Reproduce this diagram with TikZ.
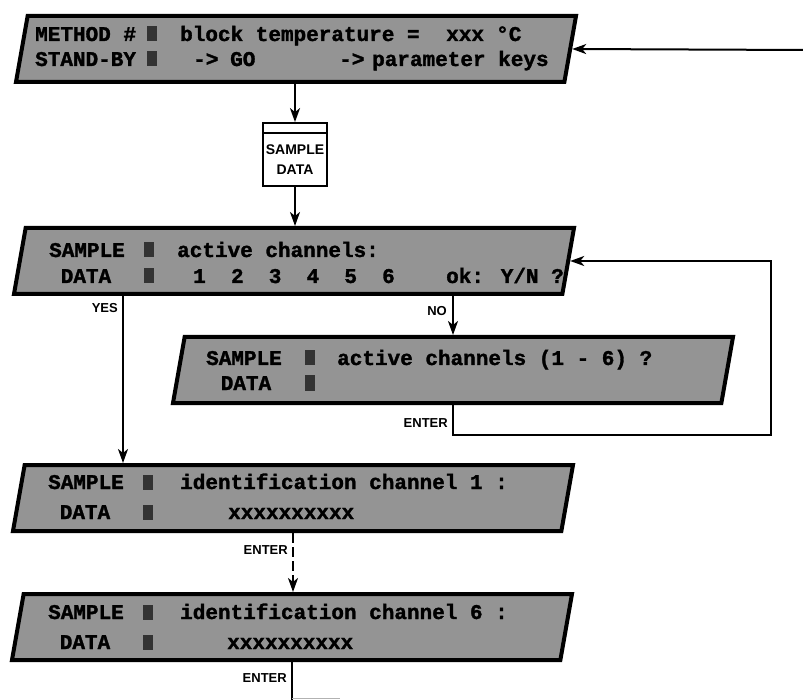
\documentclass[tikz,border=0pt]{standalone}
\usepackage{fontspec}
\setmainfont{Liberation Sans}
\newfontfamily\scrfont{Liberation Mono}[BoldFeatures={FakeBold=1.5}]
\usetikzlibrary{shapes.geometric,arrows.meta}
\begin{document}
\begin{tikzpicture}[x=1pt,y=-1pt,
 screen/.style={trapezium, trapezium left angle=80, trapezium right angle=100, trapezium stretches body,
   draw=black, line width=4pt, fill=black!42, text height=66pt, text depth=0pt, text width=0pt,
   minimum width=560pt, inner sep=0pt},
 scr/.style={font=\scrfont\bfseries\fontsize{21}{21}\selectfont, inner sep=0pt, anchor=base west},
 scrc/.style={scr, anchor=base},
 bar/.style={rectangle, fill=black!80, minimum width=10pt, minimum height=15pt, inner sep=0pt},
 lab/.style={font=\bfseries\fontsize{13}{13}\selectfont, inner sep=0pt, anchor=base east},
 conn/.style={line width=2pt},
 arr/.style={conn, -{Stealth[length=14pt,width=10pt,inset=4pt]}},
]
\fill[white] (0,0) rectangle (803,700);
\useasboundingbox (0,0) rectangle (803,700);

% screens
\node[screen] (b1) at (296,49) {};
\node[screen] (b2) at (294,261) {};
\node[screen] (b3) at (453,370) {};
\node[screen] (b4) at (293,498) {};
\node[screen] (b5) at (292,627) {};

% sample data key
\node[draw, line width=1.8pt, minimum width=64pt, minimum height=63pt, inner sep=0pt, fill=white] (sd) at (295,154.5) {};
\draw[line width=1.5pt] ([yshift=-11pt]sd.north west) -- ([yshift=-11pt]sd.north east);
\node[font=\bfseries\fontsize{14}{20}\selectfont, align=center, inner sep=0pt] (sdt) at (295,160) {SAMPLE\\DATA};

% box 1 texts
\node[scr] (t1a) at (35,41) {METHOD \#};
\node[bar] (k1a) at (152,34) {};
\node[scr] (t1b) at (180,41) {block temperature =};
\node[scr] (t1c) at (446,41) {xxx};
\node[scr] (t1d) at (496,41) {°C};
\node[scr] (t1e) at (35,66) {STAND-BY};
\node[bar] (k1b) at (152,59) {};
\node[scr] (t1f) at (193,66) {->};
\node[scr] (t1g) at (230,66) {GO};
\node[scr] (t1h) at (339,66) {->};
\node[scr] (t1i) at (372,66) {parameter keys};

% box 2 texts
\node[scrc] (t2a) at (87,257) {SAMPLE};
\node[bar] (k2a) at (149,250) {};
\node[scr] (t2b) at (177,257) {active channels:};
\node[scrc] (t2c) at (86,283) {DATA};
\node[bar] (k2b) at (149,276) {};
\node[scr] (t2d) at (193,283) {1\ \ 2\ \ 3\ \ 4\ \ 5\ \ 6};
\node[scr] (t2e) at (446,283) {ok: Y/N ?};

% box 3 texts
\node[scrc] (t3a) at (244,365) {SAMPLE};
\node[bar] (k3a) at (310,358) {};
\node[scr] (t3b) at (337,365) {active channels (1 - 6) ?};
\node[scrc] (t3c) at (246,390) {DATA};
\node[bar] (k3b) at (310,383) {};

% box 4 texts
\node[scrc] (t4a) at (86,489) {SAMPLE};
\node[bar] (k4a) at (148,482) {};
\node[scr] (t4b) at (180,489) {identification channel 1 :};
\node[scrc] (t4c) at (85,519) {DATA};
\node[bar] (k4b) at (148,512) {};
\node[scr] (t4d) at (228,519) {xxxxxxxxxx};

% box 5 texts
\node[scrc] (t5a) at (86,619) {SAMPLE};
\node[bar] (k5a) at (148,612) {};
\node[scr] (t5b) at (180,619) {identification channel 6 :};
\node[scrc] (t5c) at (85,649) {DATA};
\node[bar] (k5b) at (148,642) {};
\node[scr] (t5d) at (227,649) {xxxxxxxxxx};

% connectors
\coordinate (in1) at (803,50);
\draw[arr] (in1) -- (b1.east);
\draw[arr] (b1.south -| sd.north) -- (sd.north);
\draw[arr] (sd.south) -- (sd.south |- b2.north);
\coordinate (yx) at (123,0);
\draw[arr] (b2.south -| yx) -- (b4.north -| yx);
\draw[arr] (b2.south -| b3.north) -- (b3.north);
\coordinate (fb1) at (771,435);
\draw[arr] (b3.south) |- (fb1) |- (b2.east);
\draw[arr, dash pattern=on 10pt off 4pt] (b4.south) -- (b4.south |- b5.north);
\coordinate (e5) at (293,700);
\draw[conn] (b5.south) -- (b5.south |- e5);
\coordinate (e5r) at (340,698);
\draw[gray!60, line width=1pt] (b5.south |- e5r) -- (e5r);

% labels
\node[lab] (yes) at (118,313) {YES};
\node[lab] (no) at (447,316) {NO};
\node[lab] (en3) at (448,427) {ENTER};
\node[lab] (en4) at (288,554) {ENTER};
\node[lab] (en5) at (287,682) {ENTER};
\end{tikzpicture}
\end{document}
